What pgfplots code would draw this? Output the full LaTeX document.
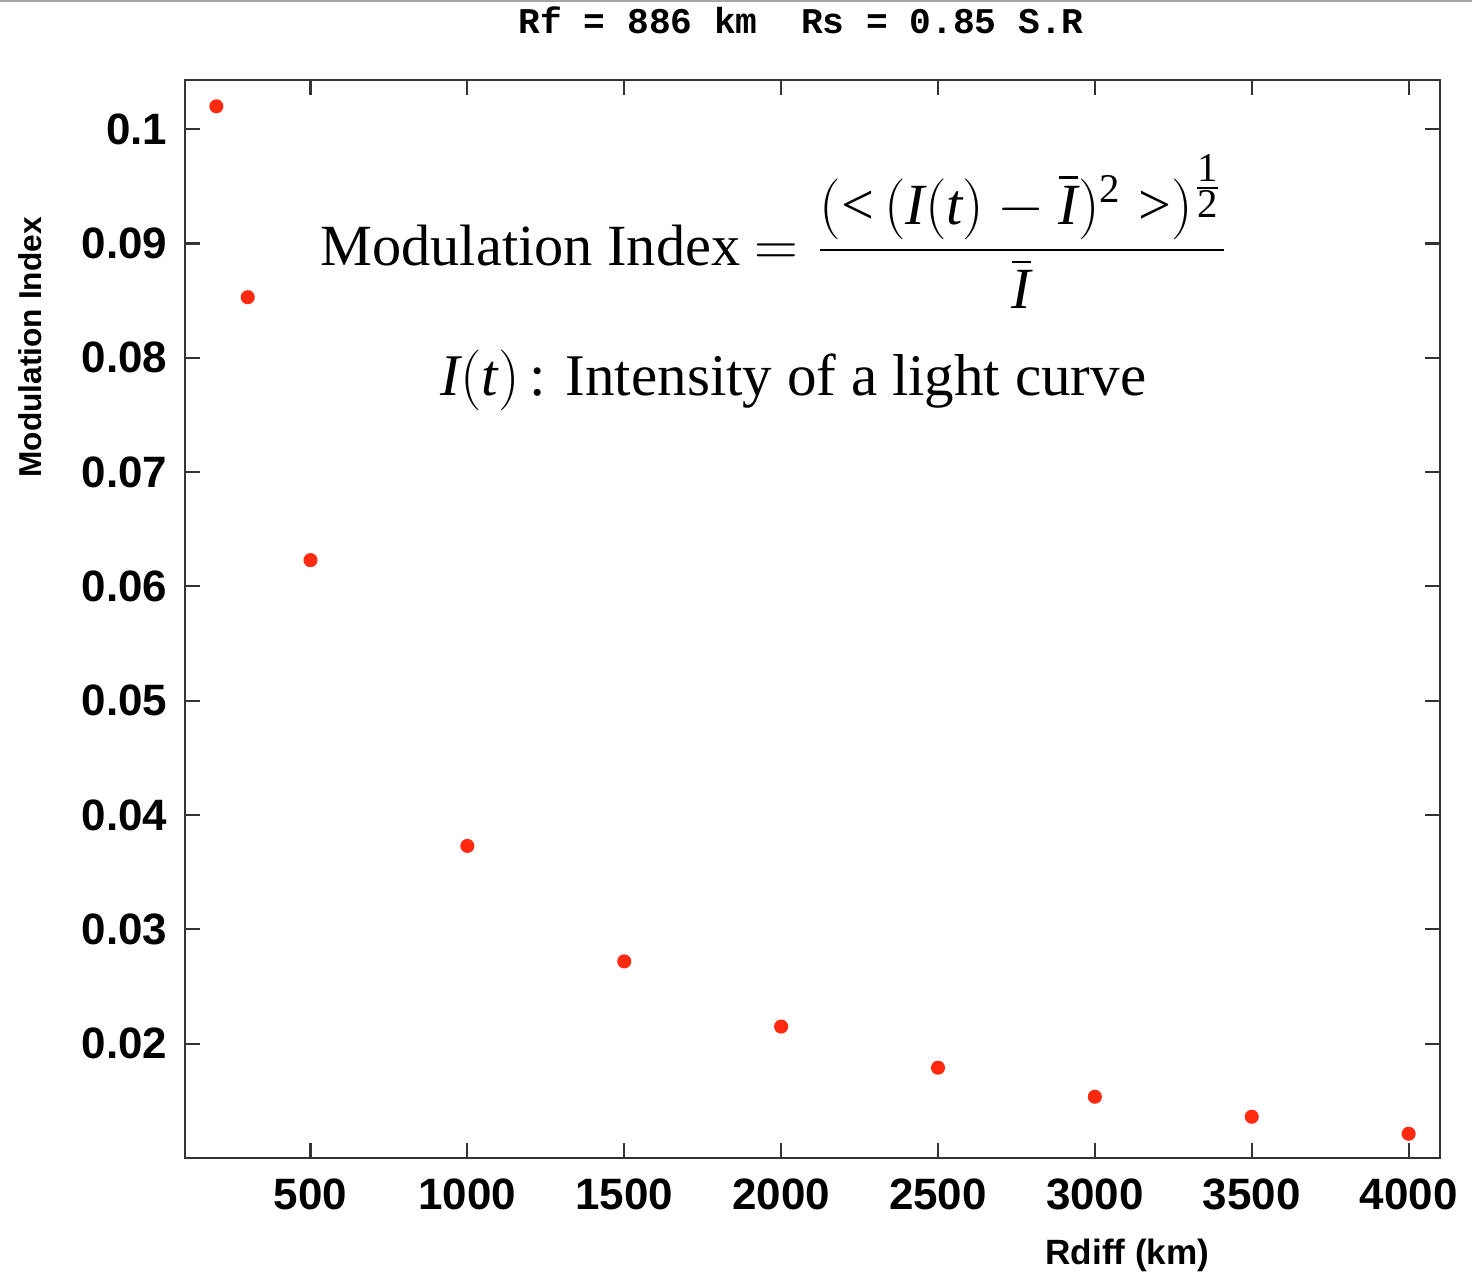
\documentclass[border=0pt]{standalone}
\usepackage{amsmath}
\usepackage{fontspec}
\setmainfont{Liberation Sans}
\newfontfamily\timesf{Liberation Serif}
\newfontfamily\courf{Liberation Mono}
\usepackage{pgfplots}
\pgfplotsset{compat=1.18}
\definecolor{dotred}{HTML}{FF2A10}
\definecolor{axisgray}{HTML}{333333}
\newcommand{\TI}{\text{\timesf\itshape I}}
\newcommand{\Tt}{\text{\timesf\itshape t}}

\begin{document}
\begin{tikzpicture}
\useasboundingbox (-1.85cm,-1.14cm) rectangle (12.87cm,11.58cm);
\draw[gray!70, line width=0.5pt] (-1.85cm,11.57cm) -- (12.87cm,11.57cm);
\begin{axis}[
  scale only axis,
  width=12.55cm,
  height=10.78cm,
  xmin=100, xmax=4100,
  ymin=0.01, ymax=0.1043,
  xtick={500,1000,...,4000},
  ytick={0.02,0.03,0.04,0.05,0.06,0.07,0.08,0.09,0.1},
  scaled y ticks=false,
  /pgf/number format/assume math mode=true,
  /pgf/number format/1000 sep={},
  yticklabel style={/pgf/number format/fixed, /pgf/number format/precision=2, xshift=-1.5pt},
  xticklabel style={yshift=-2.3pt},
  tick label style={font=\fontsize{12.5}{14}\selectfont\bfseries},
  tick align=inside,
  major tick length=0.15cm,
  axis line style={draw=axisgray, line width=0.6pt},
  every tick/.style={draw=axisgray, line width=0.6pt},
  clip=false,
  xlabel={Rdiff (km)},
  xlabel style={at={(axis description cs:0.751,0)}, anchor=center, yshift=-0.97cm, font=\fontsize{10}{12}\selectfont\bfseries},
  ylabel={Modulation Index},
  ylabel style={at={(axis description cs:-0.1235,0.752)}, anchor=center, font=\fontsize{9}{11}\selectfont\bfseries},
]
\addplot[only marks, mark=*, mark size=1.8pt, color=dotred] coordinates {
  (200,0.1020) (300,0.0853) (500,0.0623) (1000,0.0373) (1500,0.0272)
  (2000,0.0215) (2500,0.0179) (3000,0.01536) (3500,0.01361) (4000,0.01212)
};
\node[anchor=center, inner sep=0pt, font=\courf\bfseries\fontsize{10.3}{12}\selectfont]
  at (axis description cs:0.491,1.0557) {Rf = 886 km\ \ Rs = 0.85 S.R};
\node[anchor=base west, inner sep=0pt, font=\timesf\fontsize{16.6}{20}\selectfont]
  at (axis cs:530,0.0881)
  {Modulation Index $=\dfrac{(\text{<}\,(\TI(\Tt)-\overline{\TI})^{\text{2}}\;\text{>})^{\frac{\scriptstyle\text{1}}{\scriptstyle\text{2}}}}{\overline{\TI}}$};
\node[anchor=base west, inner sep=0pt, font=\timesf\fontsize{16.8}{20}\selectfont]
  at (axis cs:913,0.0767)
  {$\TI(\Tt)$\,: Intensity of a light curve};
\end{axis}
\end{tikzpicture}
\end{document}
